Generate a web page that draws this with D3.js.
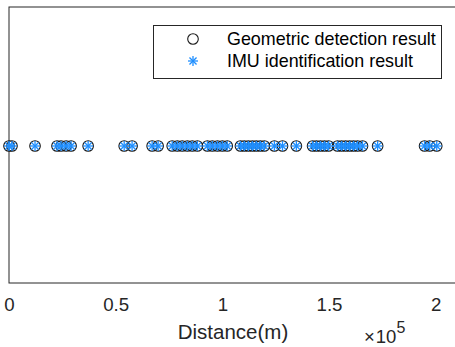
<!DOCTYPE html>
<html>
<head>
<meta charset="utf-8">
<script src="https://cdn.jsdelivr.net/npm/d3@7"></script>
<style>
  body { margin: 0; background: #fff; }
  svg { display: block; font-family: "Liberation Sans", Arial, sans-serif; }
</style>
</head>
<body>
<svg id="chart" width="455" height="347"></svg>
<script>
// distances (m)
var geoDist = [0, 1400, 12200, 22500, 24400, 26800, 29100, 37100, 54000, 57700,
  67100, 69900, 76500, 78900, 81200, 83600, 85900, 88300, 93000, 95300, 97700,
  100000, 102300, 108500, 110300, 112200, 114100, 115900, 117800, 119700, 124400,
  128200, 134700, 142300, 144100, 146000, 147900, 149800, 154000, 155900, 157800,
  159700, 161500, 163400, 165700, 172800, 194800, 197200, 200500];
var imuDist = geoDist.slice();
var xTicks = [0, 50000, 100000, 150000, 200000];
var legendNames = ["Geometric detection result", "IMU identification result"];

var svg = d3.select("#chart");
var axisCol = "#262626", blue = "#1f8fff";

var x = d3.scaleLinear().domain([0, 210000]).range([9, 457]);
var y = d3.scaleLinear().domain([0, 2]).range([283, 7]);

// box
svg.append("rect")
    .attr("x", x(0)).attr("y", y(2))
    .attr("width", x(210000) - x(0)).attr("height", y(0) - y(2))
    .attr("fill", "none").attr("stroke", axisCol).attr("stroke-width", 1);

// x axis labels
var xAxis = d3.axisBottom(x).tickValues(xTicks).tickSize(0).tickPadding(15)
    .tickFormat(function (d) { return d / 1e5; });
var gx = svg.append("g").attr("transform", "translate(0," + y(0) + ")").call(xAxis);
gx.select(".domain").remove();
gx.selectAll("text").attr("font-size", 18.7).attr("fill", axisCol)
    .attr("font-family", "Liberation Sans, Arial, sans-serif");

svg.append("text").attr("x", 233).attr("y", 339).attr("text-anchor", "middle")
    .attr("font-size", 20.5).attr("fill", axisCol).text("Distance(m)");

var ex = svg.append("text").attr("x", 364).attr("y", 343)
    .attr("font-size", 18.5).attr("fill", axisCol);
ex.append("tspan").text("\u00d7");
ex.append("tspan").attr("dx", 1).text("10");
ex.append("tspan").attr("dy", -10).attr("font-size", 16).text("5");

function asterisk(g, r) {
  [0, 45, 90, 135].forEach(function (a) {
    var t = a * Math.PI / 180;
    g.append("line")
      .attr("x1", -r * Math.cos(t)).attr("y1", -r * Math.sin(t))
      .attr("x2", r * Math.cos(t)).attr("y2", r * Math.sin(t))
      .attr("stroke", blue).attr("stroke-width", 1.3);
  });
}

// circles
svg.append("g").selectAll("circle").data(geoDist).enter().append("circle")
    .attr("cx", function (d) { return x(d); })
    .attr("cy", y(1) + 1)
    .attr("r", 5.3)
    .attr("fill", "none").attr("stroke", "#1a1a1a").attr("stroke-width", 1.1);

// asterisks
svg.append("g").selectAll("g").data(imuDist).enter().append("g")
    .attr("transform", function (d) { return "translate(" + x(d) + "," + (y(1) + 1) + ")"; })
    .each(function () { asterisk(d3.select(this), 5); });

// legend
var lg = svg.append("g");
lg.append("rect").attr("x", 153.5).attr("y", 25.5).attr("width", 288).attr("height", 53)
    .attr("fill", "#fff").attr("stroke", axisCol).attr("stroke-width", 1);
lg.append("circle").attr("cx", 193).attr("cy", 39).attr("r", 5.3)
    .attr("fill", "none").attr("stroke", "#1a1a1a").attr("stroke-width", 1.1);
asterisk(lg.append("g").attr("transform", "translate(193,61)"), 5);
lg.selectAll("text.lab").data(legendNames).enter().append("text")
    .attr("class", "lab")
    .attr("x", 227).attr("y", function (d, i) { return 45 + i * 22; })
    .attr("font-size", 17.9).attr("fill", "#000").text(function (d) { return d; });
</script>
</body>
</html>
